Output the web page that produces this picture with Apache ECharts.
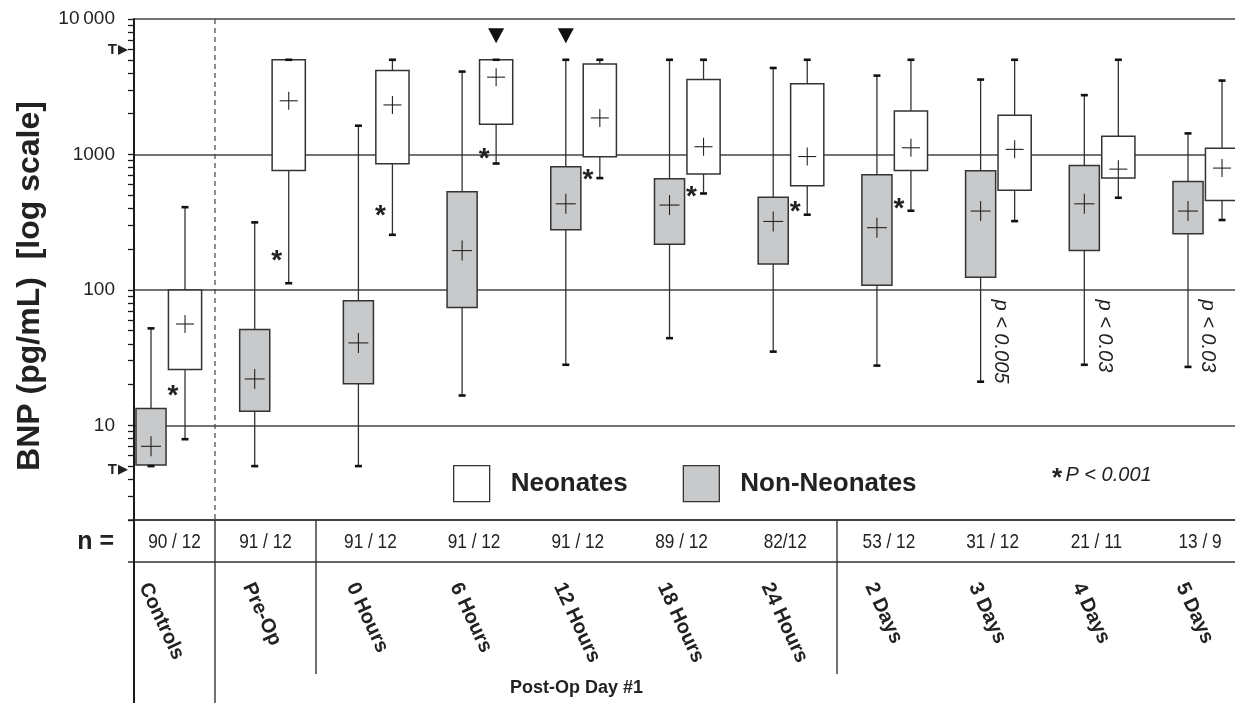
<!DOCTYPE html>
<html>
<head>
<meta charset="utf-8">
<script src="https://cdn.jsdelivr.net/npm/echarts@6/dist/echarts.min.js"></script>
<style>
  html, body { margin: 0; padding: 0; background: #fff; }
  #chart { width: 1235px; height: 703px; }
</style>
</head>
<body>
<div id="chart"></div>
<script>
// ---- data -------------------------------------------------------------
const categories = ['Controls', 'Pre-Op', '0 Hours', '6 Hours', '12 Hours', '18 Hours',
                    '24 Hours', '2 Days', '3 Days', '4 Days', '5 Days'];
const nCounts = ['90 / 12', '91 / 12', '91 / 12', '91 / 12', '91 / 12', '89 / 12',
                 '82/12', '53 / 12', '31 / 12', '21 / 11', '13 / 9'];

// BNP, pg/mL: [lower whisker, 25th pct, 75th pct, upper whisker, mean]
const nonNeonates = [
  [5, 5.1, 13.3, 52, 7.0],
  [5, 12.7, 51, 315, 22],
  [5, 20.3, 83, 1630, 40.6],
  [16.6, 74, 530, 4090, 195],
  [28, 278, 810, 5000, 432],
  [44, 217, 661, 5000, 423],
  [35, 155, 484, 4350, 320],
  [27.6, 108, 707, 3820, 288],
  [21, 124, 757, 3570, 382],
  [28, 195, 828, 2740, 432],
  [27, 260, 631, 1430, 382]
];
const neonates = [
  [7.9, 25.8, 100, 408, 56],
  [112, 761, 5000, 5000, 2490],
  [255, 853, 4160, 5000, 2320],
  [857, 1670, 5000, 5000, 3720],
  [669, 960, 4660, 5000, 1860],
  [515, 716, 3570, 5000, 1140],
  [359, 587, 3330, 5000, 965],
  [384, 761, 2090, 5000, 1120],
  [322, 545, 1950, 5000, 1090],
  [479, 669, 1365, 5000, 779],
  [328, 457, 1112, 3510, 793]
];

// level at which the "*" (P < 0.001) sits beside each neonate box
const starLevels = [18.4, 182, 397, 1045, 731, 548, 418, 447, null, null, null];
// pairwise p values written beside the late non-neonate boxes
const pLabels = ['', '', '', '', '', '', '', '', 'p < 0.005', 'p < 0.03', 'p < 0.03'];
const pLabelLevel = 85;

const yLabelValues = [10, 100, 1000, 10000];
const yTickValues = [2, 3, 4, 5, 6, 7, 8, 9,
                     10, 20, 30, 40, 50, 60, 70, 80, 90,
                     100, 200, 300, 400, 500, 600, 700, 800, 900,
                     1000, 2000, 3000, 4000, 5000, 6000, 7000, 8000, 9000, 10000];
// assay limits marked with "T" on the axis
const assayLimits = [4.7, 5900];
// categories flagged with a triangle: [category index, group side (-1 non-neonates, +1 neonates)]
const flagged = [[3, 1], [4, -1]];
const flagLevel = 7600;

// ---- styling ------------------------------------------------------------
const FONT = '"Liberation Sans", Arial, Helvetica, sans-serif';
const INK = '#222';
const EDGE = '#333';
const GRAY = '#c8c9cb';
const X_MIN = -0.328, X_MAX = 10.289;
const SIDE = 0.164;          // box centre offset, as a share of one category
const GRID = { left: 134, right: 0, top: 19, bottom: 183 };

function boxRenderer(side, fill, widthShare, crossHalf) {
  return function (params, api) {
    const i = api.value(0);
    const c0 = api.coord([i, 10]);
    const unit = api.coord([i + 1, 10])[0] - c0[0];
    const cx = c0[0] + side * SIDE * unit;
    const half = widthShare * unit / 2;
    const y = k => api.coord([i, api.value(k)])[1];
    const yLow = y(1), yQ1 = y(2), yQ3 = y(3), yHigh = y(4), yMean = y(5);
    const kids = [
      { type: 'line', shape: { x1: cx, y1: yLow, x2: cx, y2: yHigh },
        style: { stroke: EDGE, lineWidth: 1.3 } },
      { type: 'rect', shape: { x: cx - half, y: yQ3, width: 2 * half, height: yQ1 - yQ3 },
        style: { fill: fill, stroke: EDGE, lineWidth: 1.5 } },
      { type: 'line', shape: { x1: cx - 3.5, y1: yLow, x2: cx + 3.5, y2: yLow },
        style: { stroke: '#111', lineWidth: 2.6 } },
      { type: 'line', shape: { x1: cx - 3.5, y1: yHigh, x2: cx + 3.5, y2: yHigh },
        style: { stroke: '#111', lineWidth: 2.6 } },
      { type: 'line', shape: { x1: cx - crossHalf, y1: yMean, x2: cx + crossHalf, y2: yMean },
        style: { stroke: INK, lineWidth: 1.1 } },
      { type: 'line', shape: { x1: cx, y1: yMean - crossHalf, x2: cx, y2: yMean + crossHalf },
        style: { stroke: INK, lineWidth: 1.1 } }
    ];
    if (side > 0 && starLevels[i] != null) {
      kids.push({ type: 'text', x: cx - 12, y: api.coord([i, starLevels[i]])[1] + 7,
        style: { text: '*', font: 'bold 28px ' + FONT, fill: INK, align: 'center', verticalAlign: 'middle' } });
    }
    if (side < 0 && pLabels[i]) {
      kids.push({ type: 'text', x: cx + 20, y: api.coord([i, pLabelLevel])[1], rotation: -Math.PI / 2,
        style: { text: pLabels[i], font: 'italic 20px ' + FONT, fill: INK, align: 'left', verticalAlign: 'middle' } });
    }
    return { type: 'group', children: kids };
  };
}

const chart = echarts.init(document.getElementById('chart'));

const logAxisBase = { type: 'log', logBase: 10, min: 2, max: 10000 };

chart.setOption({
  animation: false,
  backgroundColor: '#fff',
  grid: GRID,
  xAxis: { type: 'value', min: X_MIN, max: X_MAX, show: false },
  yAxis: [
    Object.assign({}, logAxisBase, {
      axisLine: { show: true, onZero: false, lineStyle: { color: '#1a1a1a', width: 2 } },
      axisTick: { show: true, length: 6, customValues: yTickValues, lineStyle: { color: '#1a1a1a', width: 1.3 } },
      axisLabel: { customValues: yLabelValues, margin: 19, color: INK, fontFamily: FONT, fontSize: 19,
                   formatter: v => (v >= 10000 ? '10\u2009000' : String(v)) },
      splitLine: { show: false }
    }),
    Object.assign({}, logAxisBase, {
      position: 'left',
      axisLine: { show: false, onZero: false }, axisTick: { show: false }, axisLabel: { show: false },
      splitLine: { show: true, lineStyle: { color: '#454545', width: 1.5 } }
    })
  ],
  legend: {
    left: 448, top: 460, itemWidth: 36, itemHeight: 36, itemGap: 55, selectedMode: false,
    textStyle: { fontFamily: FONT, fontSize: 26, fontWeight: 'bold', color: INK, padding: [0, 0, 0, 16] },
    data: [
      { name: 'Neonates', icon: 'rect', itemStyle: { color: '#fff', borderColor: EDGE, borderWidth: 1.3 } },
      { name: 'Non-Neonates', icon: 'rect', itemStyle: { color: GRAY, borderColor: EDGE, borderWidth: 1.3 } }
    ]
  },
  series: [
    {
      type: 'custom', name: 'Non-Neonates', z: 3,
      itemStyle: { color: GRAY, borderColor: EDGE },
      encode: { x: 0, y: [1, 2, 3, 4, 5] },
      data: nonNeonates.map((r, i) => [i].concat(r)),
      renderItem: boxRenderer(-1, GRAY, 0.29, 10)
    },
    {
      type: 'custom', name: 'Neonates', z: 3,
      itemStyle: { color: '#fff', borderColor: EDGE },
      encode: { x: 0, y: [1, 2, 3, 4, 5] },
      data: neonates.map((r, i) => [i].concat(r)),
      renderItem: boxRenderer(1, '#fff', 0.32, 9)
    }
  ]
});

// ---- table, titles and axis annotations ----------------------------------
const px = (x, v) => chart.convertToPixel({ xAxisIndex: 0, yAxisIndex: 0 }, [x, v]);
const bottomY = px(0, 2)[1];
const topY = px(0, 10000)[1];
const axisX = px(X_MIN, 2)[0];
const unit = px(1, 10)[0] - px(0, 10)[0];
const rowBottom = bottomY + 42;
const pageBottom = 703;
const dividers = [0.453, 1.427, 6.451].map(d => px(d, 10)[0]);
const lineStyle = { stroke: '#333', lineWidth: 1.4 };
const g = [];

function line(x1, y1, x2, y2, style) {
  g.push({ type: 'line', silent: true, shape: { x1, y1, x2, y2 }, style: Object.assign({}, lineStyle, style || {}) });
}

// table frame
line(axisX - 6, bottomY, 1235, bottomY);
line(axisX - 6, rowBottom, 1235, rowBottom);
line(axisX, bottomY, axisX, pageBottom, { stroke: '#1a1a1a', lineWidth: 2 });
line(dividers[0], topY, dividers[0], bottomY, { lineDash: [5, 4], lineWidth: 1.2, stroke: '#444' });
line(dividers[0], bottomY, dividers[0], pageBottom);
line(dividers[1], bottomY, dividers[1], 674);
line(dividers[2], bottomY, dividers[2], 674);

g.push({ type: 'text', x: 114, y: (bottomY + rowBottom) / 2 + 1,
  style: { text: 'n =', font: 'bold 25px ' + FONT, fill: INK, align: 'right', verticalAlign: 'middle' } });

// single-category columns centre their count in the cell
const cellCentres = [(axisX + dividers[0]) / 2, (dividers[0] + dividers[1]) / 2];
categories.forEach((name, i) => {
  const cx = px(i, 10)[0];
  const nx = i < cellCentres.length ? cellCentres[i] : cx - 5;
  // sample sizes are set in a condensed face
  g.push({ type: 'text', x: nx, y: (bottomY + rowBottom) / 2 + 1, scaleX: 0.82,
    style: { text: nCounts[i], font: '21px ' + FONT, fill: INK, align: 'center', verticalAlign: 'middle' } });
  g.push({ type: 'text', x: cx - 24, y: bottomY + 64, rotation: -65 * Math.PI / 180,
    style: { text: name, font: 'bold 20px ' + FONT, fill: INK, align: 'left', verticalAlign: 'middle' } });
});

g.push({ type: 'text', x: (dividers[1] + dividers[2]) / 2, y: 688,
  style: { text: 'Post-Op Day #1', font: 'bold 18px ' + FONT, fill: INK, align: 'center', verticalAlign: 'middle' } });

// y axis title
g.push({ type: 'text', x: 30, y: 286, rotation: Math.PI / 2,
  style: { text: 'BNP (pg/mL)  [log scale]', font: 'bold 32px ' + FONT, fill: INK, align: 'center', verticalAlign: 'middle' } });

// assay limits
assayLimits.forEach(v => {
  const yy = px(0, v)[1];
  g.push({ type: 'text', x: 117, y: yy, style: { text: 'T', font: 'bold 15px ' + FONT, fill: INK, align: 'right', verticalAlign: 'middle' } });
  g.push({ type: 'polygon', shape: { points: [[118, yy - 5], [128, yy], [118, yy + 5]] }, style: { fill: INK } });
});

// flagged time points
flagged.forEach(([i, side]) => {
  const p = px(i, flagLevel);
  const cx = p[0] + side * SIDE * unit;
  g.push({ type: 'polygon', shape: { points: [[cx - 8, p[1] - 7], [cx + 8, p[1] - 7], [cx, p[1] + 8]] }, style: { fill: '#111' } });
});

// significance key
g.push({ type: 'text', x: 1052, y: 475, style: {
  rich: { s: { font: 'bold 26px ' + FONT, fill: INK, padding: [8, 0, 0, 0] }, p: { font: 'italic 20px ' + FONT, fill: INK } },
  text: '{s|*} {p|P < 0.001}', align: 'left', verticalAlign: 'middle' } });

chart.setOption({ graphic: g });
</script>
</body>
</html>
